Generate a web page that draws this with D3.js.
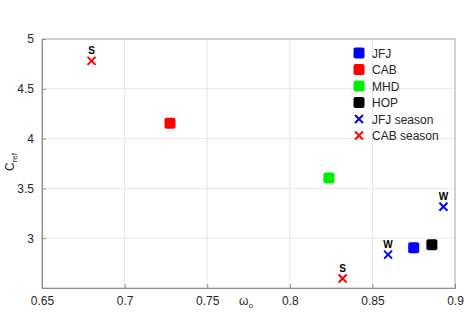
<!DOCTYPE html>
<html>
<head>
<meta charset="utf-8">
<script src="https://cdn.jsdelivr.net/npm/d3@7"></script>
<style>
  body { margin: 0; background: #fff; }
  text { font-family: "Liberation Sans", Arial, sans-serif; }
</style>
</head>
<body>
<svg id="chart" width="469" height="314"></svg>
<script>
// site means (omega_o, C_ref)
const sites = ["JFJ", "CAB", "MHD", "HOP"];
const siteColors = ["#0000ff", "#ff0000", "#00ee00", "#000000"];
const siteX = [0.875, 0.7275, 0.8237, 0.886];
const siteY = [2.905, 4.155, 3.605, 2.935];

// seasonal points
const seasonSeries = ["JFJ season", "CAB season"];
const seasonColors = ["#0000ff", "#ff0000"];
const seasonX = [[0.8595, 0.893], [0.680, 0.832]];
const seasonY = [[2.835, 3.315], [4.78, 2.595]];
const seasonLabels = [["W", "W"], ["S", "S"]];

const xTicks = [0.65, 0.7, 0.75, 0.8, 0.85, 0.9];
const yTicks = [3, 3.5, 4, 4.5, 5];

const svg = d3.select("#chart");
const margin = {left: 42, top: 39, right: 14, bottom: 26};
const width = 469 - margin.left - margin.right;
const height = 314 - margin.top - margin.bottom;

const x = d3.scaleLinear().domain([0.65, 0.9]).range([0, width]);
const y = d3.scaleLinear().domain([2.5, 5]).range([height, 0]);

const g = svg.append("g").attr("transform", `translate(${margin.left},${margin.top})`);

// grid
g.append("g").selectAll("line").data(xTicks).join("line")
  .attr("x1", d => x(d)).attr("x2", d => x(d))
  .attr("y1", 0).attr("y2", height)
  .attr("stroke", "#e6e6e6").attr("stroke-width", 1);
g.append("g").selectAll("line").data(yTicks).join("line")
  .attr("x1", 0).attr("x2", width)
  .attr("y1", d => y(d)).attr("y2", d => y(d))
  .attr("stroke", "#e6e6e6").attr("stroke-width", 1);

// box
g.append("rect").attr("width", width).attr("height", height)
  .attr("fill", "none").attr("stroke", "#b0b0b0");

// axes
const xAxis = g.append("g").attr("transform", `translate(0,${height})`)
  .call(d3.axisBottom(x).tickValues(xTicks).tickFormat(d3.format("")).tickSize(-4).tickPadding(8));
const yAxis = g.append("g")
  .call(d3.axisLeft(y).tickValues(yTicks).tickFormat(d3.format("")).tickSize(-4).tickPadding(8));
[xAxis, yAxis].forEach(a => {
  a.select(".domain").attr("stroke", "#8c8c8c");
  a.selectAll(".tick line").attr("stroke", "#8c8c8c");
  a.selectAll("text").attr("font-size", 12).attr("fill", "#262626")
    .attr("font-family", "Liberation Sans, Arial, sans-serif");
});

// axis labels
svg.append("text").attr("transform", "translate(14,162) rotate(-90)")
  .attr("text-anchor", "middle").attr("font-size", 12).attr("fill", "#262626")
  .html('C<tspan font-size="8" dy="3">ref</tspan>');
svg.append("text").attr("x", 246).attr("y", 305)
  .attr("text-anchor", "middle").attr("font-size", 12).attr("fill", "#262626")
  .html('ω<tspan font-size="8" dy="3">o</tspan>');

// site squares
const sq = 11;
g.append("g").selectAll("rect").data(sites).join("rect")
  .attr("x", (d, i) => x(siteX[i]) - sq / 2)
  .attr("y", (d, i) => y(siteY[i]) - sq / 2)
  .attr("width", sq).attr("height", sq).attr("rx", 2)
  .attr("fill", (d, i) => siteColors[i]);

// season crosses
const cross = (cx, cy, r) => `M${cx - r},${cy - r}L${cx + r},${cy + r}M${cx - r},${cy + r}L${cx + r},${cy - r}`;
seasonSeries.forEach((s, si) => {
  const pts = seasonX[si].map((v, j) => ({x: v, y: seasonY[si][j], lab: seasonLabels[si][j]}));
  g.append("g").selectAll("path").data(pts).join("path")
    .attr("d", d => cross(x(d.x), y(d.y), 4))
    .attr("stroke", seasonColors[si]).attr("stroke-width", 2).attr("fill", "none");
  g.append("g").selectAll("text").data(pts).join("text")
    .attr("x", d => x(d.x)).attr("y", d => y(d.y) - 7)
    .attr("text-anchor", "middle").attr("font-size", 10).attr("font-weight", "bold")
    .attr("fill", "#000").text(d => d.lab);
});

// legend
const legend = svg.append("g").attr("transform", "translate(359,53)");
const rowH = 16.5;
sites.forEach((s, i) => {
  legend.append("rect").attr("x", -5.5).attr("y", i * rowH - 5.5)
    .attr("width", sq).attr("height", sq).attr("rx", 2).attr("fill", siteColors[i]);
  legend.append("text").attr("x", 13).attr("y", i * rowH + 4.5)
    .attr("font-size", 12).attr("fill", "#262626").text(s);
});
seasonSeries.forEach((s, i) => {
  const yy = (sites.length + i) * rowH;
  legend.append("path").attr("d", cross(0, yy, 4))
    .attr("stroke", seasonColors[i]).attr("stroke-width", 2).attr("fill", "none");
  legend.append("text").attr("x", 13).attr("y", yy + 4.5)
    .attr("font-size", 12).attr("fill", "#262626").text(s);
});
</script>
</body>
</html>
